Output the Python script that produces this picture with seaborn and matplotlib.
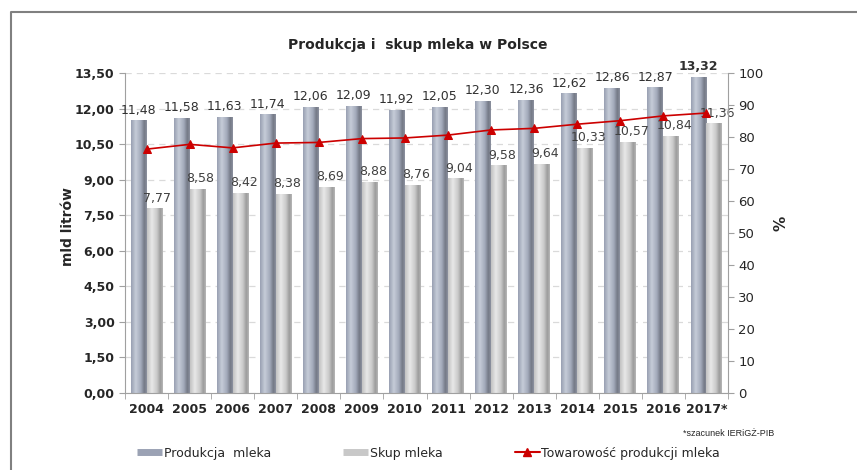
import numpy as np
import pandas as pd
import matplotlib.pyplot as plt
from matplotlib.colors import LinearSegmentedColormap
from matplotlib.lines import Line2D
from matplotlib.ticker import FuncFormatter, MultipleLocator
import seaborn as sns

# dane z wykresu
lata = ["2004", "2005", "2006", "2007", "2008", "2009", "2010",
        "2011", "2012", "2013", "2014", "2015", "2016", "2017*"]
produkcja = [11.48, 11.58, 11.63, 11.74, 12.06, 12.09, 11.92,
             12.05, 12.30, 12.36, 12.62, 12.86, 12.87, 13.32]
skup = [7.77, 8.58, 8.42, 8.38, 8.69, 8.88, 8.76,
        9.04, 9.58, 9.64, 10.33, 10.57, 10.84, 11.36]
towarowosc = [76.2, 77.7, 76.6, 78.1, 78.3, 79.5, 79.7,
              80.6, 82.2, 82.7, 84.0, 85.1, 86.6, 87.5]

serie = ["Produkcja  mleka", "Skup mleka"]
df = pd.DataFrame({
    "rok": lata * 2,
    "seria": [serie[0]] * len(lata) + [serie[1]] * len(lata),
    "wartosc": produkcja + skup,
})

sns.set_style("ticks")
plt.rcParams["font.family"] = ["DejaVu Sans"]

fig = plt.figure(figsize=(8.57, 4.70), dpi=100)
ax = fig.add_axes([125 / 857, 1 - 393 / 470, 603 / 857, 320 / 470])

sns.barplot(data=df, x="rok", y="wartosc", hue="seria",
            palette=["#9ba2b4", "#c8c8c8"], saturation=1,
            width=0.74, legend=False, ax=ax)

# cylindryczny gradient na słupkach
cm_prod = LinearSegmentedColormap.from_list("p", [
    (0, "#98a0b2"), (0.3, "#c6ccd8"), (0.62, "#a3aabb"),
    (0.85, "#737885"), (1, "#8d92a0")])
cm_skup = LinearSegmentedColormap.from_list("s", [
    (0, "#c2c2c2"), (0.3, "#e8e8e8"), (0.62, "#cbcbcb"),
    (0.85, "#9b9b9b"), (1, "#b8b8b8")])
grad = np.linspace(0, 1, 64).reshape(1, -1)
n = len(lata)
for i, p in enumerate(list(ax.patches)):
    x0, w, h = p.get_x(), p.get_width(), p.get_height()
    cmap = cm_prod if i < n else cm_skup
    ax.imshow(grad, cmap=cmap, extent=[x0, x0 + w, 0, h],
              aspect="auto", zorder=2, interpolation="bilinear")
    p.set_visible(False)

# etykiety wartości
for i in range(n):
    ax.annotate(f"{produkcja[i]:.2f}".replace(".", ","),
                (i - 0.19, produkcja[i]), xytext=(0, 3),
                textcoords="offset points", ha="center", va="bottom",
                fontsize=9, color="#303030", zorder=5,
                fontweight="bold" if i == n - 1 else "normal")
    ax.annotate(f"{skup[i]:.2f}".replace(".", ","),
                (i + 0.19, skup[i]), xytext=(2, 3),
                textcoords="offset points", ha="center", va="bottom",
                fontsize=9, color="#404040", zorder=5)

ax.set_xlim(-0.5, n - 0.5)
ax.set_ylim(0, 13.5)
ax.yaxis.set_major_locator(MultipleLocator(1.5))
ax.yaxis.set_major_formatter(FuncFormatter(lambda v, _: f"{v:.2f}".replace(".", ",")))
ax.set_xticks(range(n))
ax.set_xticklabels(lata)
ax.set_xticks(np.arange(-0.5, n, 1), minor=True)
ax.tick_params(axis="x", which="major", length=0, pad=7)
ax.tick_params(axis="x", which="minor", length=4, color="#a0a0a0")
ax.tick_params(axis="y", length=4, color="#a0a0a0")
for lab in ax.get_xticklabels() + ax.get_yticklabels():
    lab.set_fontweight("bold")
    lab.set_fontsize(9)
ax.grid(axis="y", linestyle=(0, (5, 4)), color="#dadada", linewidth=0.9)
ax.set_axisbelow(True)
ax.set_xlabel("")
ax.set_ylabel("mld litrów", fontsize=10, fontweight="bold")
ax.yaxis.set_label_coords(-0.083, 0.52)
for s in ["top", "right"]:
    ax.spines[s].set_visible(False)
for s in ["left", "bottom"]:
    ax.spines[s].set_color("#a0a0a0")

# oś prawa - towarowość
ax2 = ax.twinx()
sns.lineplot(x=np.arange(n), y=towarowosc, ax=ax2, color="#cc0000",
             marker="^", markersize=6, markeredgecolor="#cc0000",
             linewidth=1.2)
ax2.set_ylim(0, 100)
ax2.yaxis.set_major_locator(MultipleLocator(10))
ax2.tick_params(axis="y", length=4, color="#a0a0a0", labelsize=9.5)
ax2.set_ylabel("%", fontsize=11, fontweight="bold")
ax2.yaxis.set_label_coords(1.075, 0.53)
for s in ["top", "left", "bottom"]:
    ax2.spines[s].set_visible(False)
ax2.spines["right"].set_color("#a0a0a0")

fig.text(0.487, 0.904, "Produkcja i  skup mleka w Polsce",
         ha="center", va="center", fontsize=10, fontweight="bold")
fig.text(683 / 857, 1 - 433 / 470, "*szacunek IERiGŻ-PIB",
         ha="left", va="center", fontsize=6.5,
         family=["Liberation Sans", "DejaVu Sans"])

handles = [Line2D([], [], color="#9ba2b4", lw=5, solid_capstyle="butt"),
           Line2D([], [], color="#c8c8c8", lw=5, solid_capstyle="butt"),
           Line2D([], [], color="#cc0000", lw=1.5, marker="^", markersize=6)]
fig.legend(handles, serie + ["Towarowość produkcji mleka"],
           loc="center", bbox_to_anchor=(0.5, 1 - 453 / 470), ncol=3,
           frameon=False, fontsize=9, handlelength=2.0, handletextpad=0.1,
           columnspacing=5.8)

# ramka obrazu
fig.add_artist(Line2D([11 / 857, 11 / 857, 1], [0, 1 - 12 / 470, 1 - 12 / 470],
                      transform=fig.transFigure, color="#808080", lw=1.5))

fig.savefig("out.png", dpi=100)
